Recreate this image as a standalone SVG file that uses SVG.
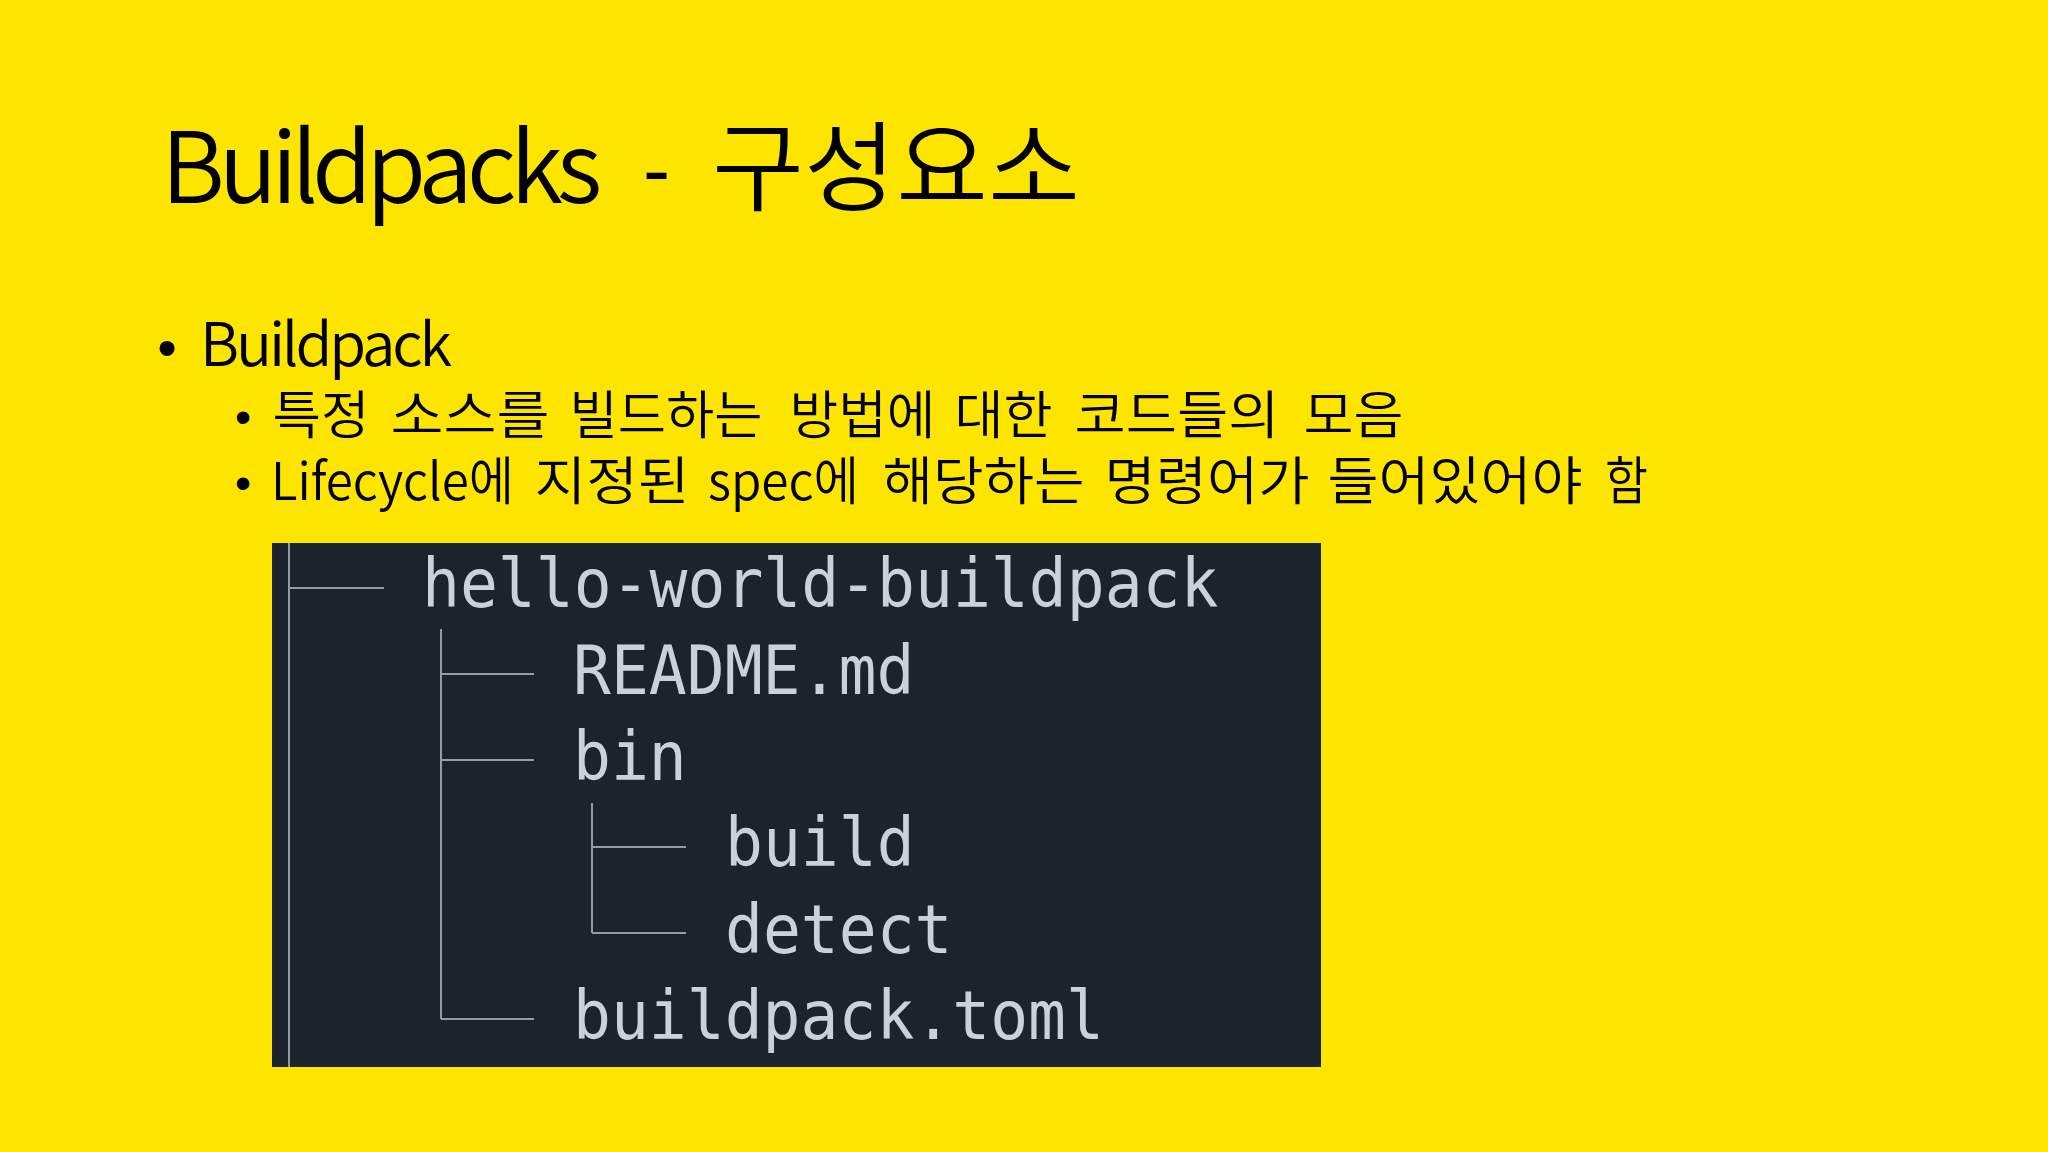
<svg xmlns="http://www.w3.org/2000/svg" width="2048" height="1152" viewBox="0 0 2048 1152">
<style>
.title{font-family:"Noto Sans CJK KR","Noto Sans",sans-serif;font-size:98px;fill:#000;font-weight:350}
.b1{font-family:"Noto Sans CJK KR","Noto Sans",sans-serif;font-size:60px;fill:#000;font-weight:350}
.b2{font-family:"Noto Sans CJK KR","Noto Sans",sans-serif;font-size:52px;fill:#000;font-weight:350}
.dot{font-family:"Liberation Sans",sans-serif;fill:#000;text-anchor:middle}
.code{font-family:"DejaVu Sans Mono",monospace;font-size:63px;fill:#C9D1DA}
.tree{stroke:#939CA6;stroke-width:2;fill:none}
</style>
<rect x="0" y="0" width="2048" height="1152" fill="#FEE500"/>
<g id="title">
<text class="title" x="161" y="203" textLength="441" lengthAdjust="spacing">Buildpacks</text>
<text class="title" x="643" y="203" textLength="27" lengthAdjust="spacingAndGlyphs">-</text>
<text class="title" x="712" y="203" textLength="368" lengthAdjust="spacingAndGlyphs">구성요소</text>
</g>
<g id="bullet-1">
<text class="dot" x="167" y="367" font-size="56">•</text>
<text class="b1" x="200" y="366" textLength="252" lengthAdjust="spacing">Buildpack</text>
</g>
<g id="bullet-1-1">
<text class="dot" x="243" y="433" font-size="46">•</text>
<text class="b2" x="272.5" y="434" textLength="97" lengthAdjust="spacingAndGlyphs">특정</text>
<text class="b2" x="390.5" y="434" textLength="159" lengthAdjust="spacingAndGlyphs">소스를</text>
<text class="b2" x="569.5" y="434" textLength="193" lengthAdjust="spacingAndGlyphs">빌드하는</text>
<text class="b2" x="789.5" y="434" textLength="146" lengthAdjust="spacingAndGlyphs">방법에</text>
<text class="b2" x="954.5" y="434" textLength="98" lengthAdjust="spacingAndGlyphs">대한</text>
<text class="b2" x="1074.5" y="434" textLength="205" lengthAdjust="spacingAndGlyphs">코드들의</text>
<text class="b2" x="1303.5" y="434" textLength="100" lengthAdjust="spacingAndGlyphs">모음</text>
</g>
<g id="bullet-1-2">
<text class="dot" x="243" y="499" font-size="46">•</text>
<text class="b2" x="271" y="500" textLength="243" lengthAdjust="spacingAndGlyphs">Lifecycle에</text>
<text class="b2" x="534.5" y="500" textLength="155" lengthAdjust="spacingAndGlyphs">지정된</text>
<text class="b2" x="708" y="500" textLength="151" lengthAdjust="spacingAndGlyphs">spec에</text>
<text class="b2" x="882.5" y="500" textLength="202" lengthAdjust="spacingAndGlyphs">해당하는</text>
<text class="b2" x="1104.5" y="500" textLength="205" lengthAdjust="spacingAndGlyphs">명령어가</text>
<text class="b2" x="1327.5" y="500" textLength="255" lengthAdjust="spacingAndGlyphs">들어있어야</text>
<text class="b2" x="1605" y="500" textLength="43" lengthAdjust="spacingAndGlyphs">함</text>
</g>
<g id="code-panel">
<rect x="272" y="543" width="1049" height="524" fill="#1B232D"/>
</g>
<g id="connectors">
<line class="tree" x1="289" y1="543" x2="289" y2="1067"/>
<line class="tree" x1="289" y1="588" x2="384" y2="588"/>
<line class="tree" x1="441" y1="629" x2="441" y2="1019"/>
<line class="tree" x1="441" y1="674" x2="534" y2="674"/>
<line class="tree" x1="441" y1="760" x2="534" y2="760"/>
<line class="tree" x1="592" y1="803" x2="592" y2="933"/>
<line class="tree" x1="592" y1="847" x2="686" y2="847"/>
<line class="tree" x1="592" y1="933" x2="686" y2="933"/>
<line class="tree" x1="441" y1="1019" x2="534" y2="1019"/>
</g>
<g id="node-hello-world-buildpack" transform="translate(422,607) scale(1,1.07)"><text class="code" x="0" y="0">hello-world-buildpack</text></g>
<g id="node-readme" transform="translate(573,694) scale(1,1.07)"><text class="code" x="0" y="0">README.md</text></g>
<g id="node-bin" transform="translate(573,780) scale(1,1.07)"><text class="code" x="0" y="0">bin</text></g>
<g id="node-build" transform="translate(725,866) scale(1,1.07)"><text class="code" x="0" y="0">build</text></g>
<g id="node-detect" transform="translate(725,953) scale(1,1.07)"><text class="code" x="0" y="0">detect</text></g>
<g id="node-buildpack-toml" transform="translate(573,1039) scale(1,1.07)"><text class="code" x="0" y="0">buildpack.toml</text></g>
</svg>
